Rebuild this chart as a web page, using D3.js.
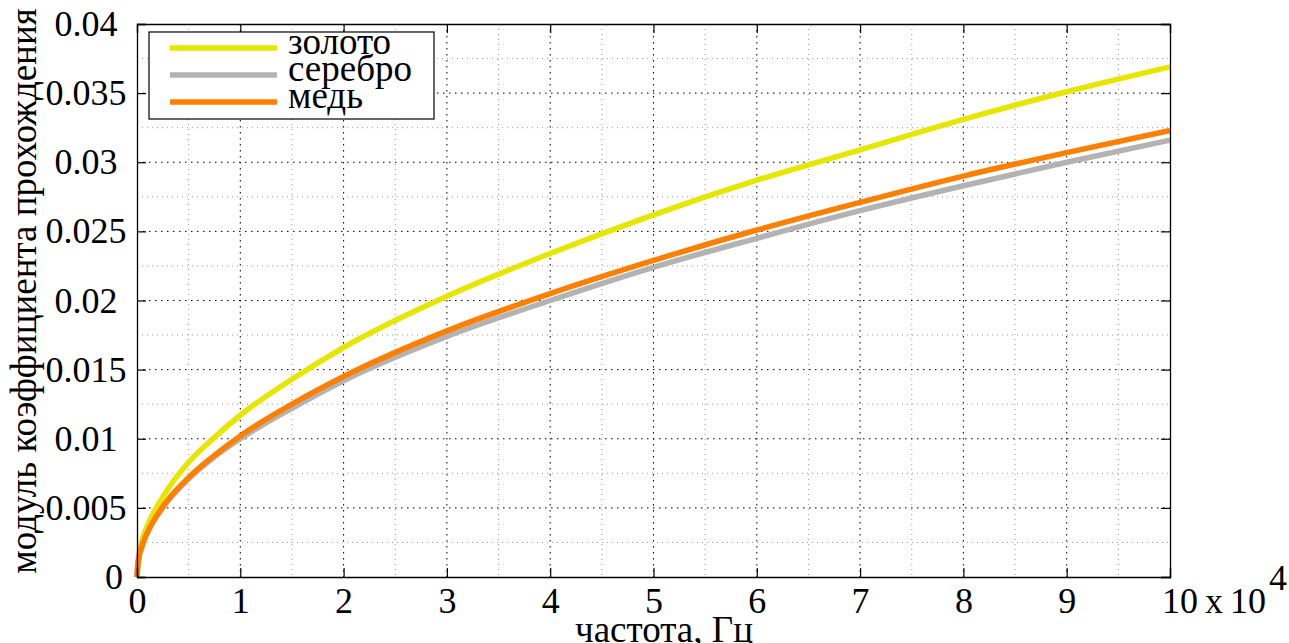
<!DOCTYPE html>
<html>
<head>
<meta charset="utf-8">
<script src="https://cdn.jsdelivr.net/npm/d3@7"></script>
<style>
  body { margin: 0; background: #fff; }
  svg text { font-family: "Liberation Serif", "Times New Roman", Times, serif; }
</style>
</head>
<body>
<div id="chart"></div>
<script>
// frequency, x 10^4 Hz
const freq = [0, 0.01, 0.05, 0.1, 0.25, 0.5, 0.75, 1, 1.5, 2, 3, 4, 5, 6, 7, 8, 9, 10];
// |transmission coefficient|
const gold   = [0, 0.0012, 0.0027, 0.0037, 0.0058, 0.0083, 0.0101, 0.0117, 0.0143, 0.0166, 0.0203, 0.0234, 0.0262, 0.0287, 0.0309, 0.0331, 0.0351, 0.0369];
const silver = [0, 0.0010, 0.0022, 0.0032, 0.0050, 0.0071, 0.0087, 0.0100, 0.0122, 0.0142, 0.0174, 0.0200, 0.0224, 0.0245, 0.0265, 0.0283, 0.0300, 0.0316];
const copper = [0, 0.0010, 0.0023, 0.0032, 0.0051, 0.0072, 0.0088, 0.0102, 0.0125, 0.0145, 0.0178, 0.0205, 0.0229, 0.0251, 0.0271, 0.0290, 0.0307, 0.0323];

const seriesNames = ['золото', 'серебро', 'медь'];
const seriesColors = ['#e6e600', '#b3b3b3', '#ff8000'];
const xTicks = [0, 1, 2, 3, 4, 5, 6, 7, 8, 9, 10];
const yTicks = [0, 0.005, 0.01, 0.015, 0.02, 0.025, 0.03, 0.035, 0.04];

const width = 1289, height = 643;
const margin = { top: 24, right: 119, bottom: 66, left: 137 };
const innerW = width - margin.left - margin.right;
const innerH = height - margin.top - margin.bottom;

const svg = d3.select('#chart').append('svg')
  .attr('width', width)
  .attr('height', height);

const g = svg.append('g')
  .attr('transform', `translate(${margin.left},${margin.top})`);

const x = d3.scaleLinear().domain([0, 10]).range([0, innerW]);
const y = d3.scaleLinear().domain([0, 0.04]).range([innerH, 0]);

// Minor grid (grey dotted)
const xMinor = d3.range(0.5, 10, 1);
const yMinor = d3.range(0.0025, 0.04, 0.005);
g.selectAll('line.xminor').data(xMinor).join('line')
  .attr('x1', d => x(d)).attr('x2', d => x(d))
  .attr('y1', 0).attr('y2', innerH)
  .attr('stroke', '#999').attr('stroke-width', 1).attr('stroke-dasharray', '1,4');
g.selectAll('line.yminor').data(yMinor).join('line')
  .attr('x1', 0).attr('x2', innerW)
  .attr('y1', d => y(d)).attr('y2', d => y(d))
  .attr('stroke', '#999').attr('stroke-width', 1).attr('stroke-dasharray', '1,4');

// Major grid (black dotted)
g.selectAll('line.xmajor').data(xTicks.slice(1, -1)).join('line')
  .attr('x1', d => x(d)).attr('x2', d => x(d))
  .attr('y1', 0).attr('y2', innerH)
  .attr('stroke', '#000').attr('stroke-width', 1).attr('stroke-dasharray', '1.5,4.5');
g.selectAll('line.ymajor').data(yTicks.slice(1, -1)).join('line')
  .attr('x1', 0).attr('x2', innerW)
  .attr('y1', d => y(d)).attr('y2', d => y(d))
  .attr('stroke', '#000').attr('stroke-width', 1).attr('stroke-dasharray', '1.5,4.5');

// Curves
const line = d3.line()
  .x(d => x(d[0]))
  .y(d => y(d[1]))
  .curve(d3.curveMonotoneX);

[gold, silver, copper].forEach((vals, i) => {
  g.append('path')
    .datum(freq.map((f, j) => [f, vals[j]]))
    .attr('fill', 'none')
    .attr('stroke', seriesColors[i])
    .attr('stroke-width', 5.5)
    .attr('stroke-linejoin', 'round')
    .attr('d', line);
});

// Axes
const tickFont = 36;
const labelFont = 37;
const xAxis = g.append('g')
  .attr('transform', `translate(0,${innerH})`)
  .call(d3.axisBottom(x).tickValues(xTicks).tickSize(-9).tickPadding(10).tickFormat(d3.format('d')));
const yAxis = g.append('g')
  .call(d3.axisLeft(y).tickValues(yTicks).tickSize(-9).tickPadding(16).tickFormat(d => d === 0 ? '0' : d3.format('')(+d.toFixed(3))));
g.append('g').call(d3.axisTop(x).tickValues(xTicks).tickSize(-9).tickFormat(''));
g.append('g').attr('transform', `translate(${innerW},0)`)
  .call(d3.axisRight(y).tickValues(yTicks).tickSize(-9).tickFormat(''));

g.selectAll('.domain').attr('stroke', '#000').attr('stroke-width', 1.3);
g.selectAll('.tick line').attr('stroke', '#000').attr('stroke-width', 1.2);
g.selectAll('.tick text')
  .attr('fill', '#000')
  .attr('font-size', tickFont);
xAxis.selectAll('.tick text').filter(d => d === 10).remove();

// y tick labels sit centred in the left margin, the zero on its own
yAxis.selectAll('.tick text')
  .attr('text-anchor', 'middle')
  .attr('x', d => d === 0 ? -23 : -51);

// "10 x 10^4" label at x = 10
g.append('text')
  .attr('x', x(10) - 8)
  .attr('y', innerH + 36)
  .attr('font-size', tickFont)
  .attr('fill', '#000')
  .attr('word-spacing', -2)
  .text('10 x 10');
g.append('text')
  .attr('x', x(10) + 99)
  .attr('y', innerH + 13)
  .attr('font-size', tickFont)
  .attr('fill', '#000')
  .text('4');

// Axis titles
svg.append('text')
  .attr('x', 664)
  .attr('y', height - 1)
  .attr('text-anchor', 'middle')
  .attr('font-size', labelFont)
  .attr('fill', '#000')
  .text('частота, Гц');

svg.append('text')
  .attr('transform', `translate(36,${291}) rotate(-90)`)
  .attr('text-anchor', 'middle')
  .attr('font-size', labelFont)
  .attr('fill', '#000')
  .text('модуль коэффициента прохождения');

// Legend
const legend = svg.append('g').attr('transform', 'translate(149,32)');
legend.append('rect')
  .attr('width', 285).attr('height', 87)
  .attr('fill', '#fff').attr('stroke', '#000').attr('stroke-width', 1.2);
seriesNames.forEach((name, i) => {
  const ly = 16 + i * 27;
  legend.append('line')
    .attr('x1', 21).attr('x2', 128)
    .attr('y1', ly).attr('y2', ly)
    .attr('stroke', seriesColors[i]).attr('stroke-width', 5.5);
  legend.append('text')
    .attr('x', 139).attr('y', ly + 6)
    .attr('font-size', labelFont)
    .attr('fill', '#000')
    .text(name);
});
</script>
</body>
</html>
